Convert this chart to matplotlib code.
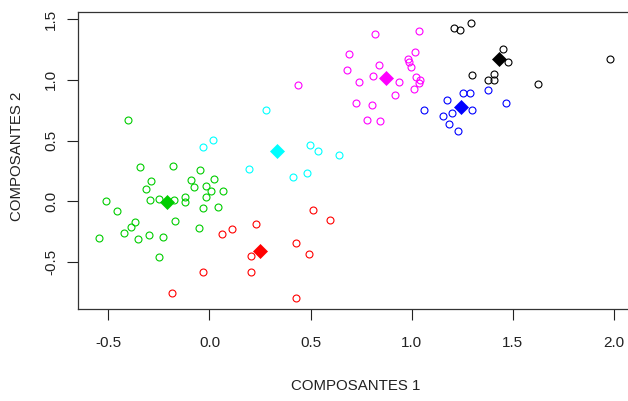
import matplotlib
matplotlib.use("Agg")
import matplotlib.pyplot as plt

# points of each cluster
green_x = [-0.403, -0.342, -0.178, -0.049, -0.288, -0.090, 0.023, -0.316, -0.074, -0.018,
           0.010, 0.069, -0.018, -0.512, -0.293, -0.252, -0.173, -0.119, -0.119, -0.031,
           0.043, -0.456, -0.366, -0.388, -0.168, -0.054, -0.425, -0.298, -0.352, -0.232,
           -0.548, -0.252]
green_y = [0.670, 0.280, 0.291, 0.260, 0.170, 0.178, 0.186, 0.104, 0.120, 0.123,
           0.087, 0.087, 0.038, 0.002, 0.013, 0.022, 0.013, 0.033, -0.008, -0.053,
           -0.044, -0.080, -0.173, -0.212, -0.165, -0.220, -0.258, -0.275, -0.313, -0.294,
           -0.305, -0.461]

cyan_x = [0.018, -0.031, 0.196, 0.280, 0.499, 0.536, 0.642, 0.481, 0.414]
cyan_y = [0.502, 0.447, 0.269, 0.752, 0.466, 0.412, 0.381, 0.233, 0.198]

red_x = [0.229, 0.111, 0.064, 0.203, -0.031, 0.206, -0.186, 0.514, 0.598, 0.430, 0.494, 0.430]
red_y = [-0.184, -0.231, -0.269, -0.453, -0.585, -0.585, -0.753, -0.072, -0.157, -0.344, -0.434, -0.799]

magenta_x = [0.821, 1.036, 0.692, 1.018, 0.679, 0.840, 0.983, 0.988, 0.998, 0.738, 0.807,
             0.939, 1.021, 1.041, 1.035, 1.013, 0.917, 0.725, 0.805, 0.781, 0.843, 0.440]
magenta_y = [1.378, 1.405, 1.211, 1.230, 1.082, 1.120, 1.170, 1.150, 1.104, 0.980, 1.035,
             0.985, 1.026, 0.999, 0.972, 0.923, 0.876, 0.810, 0.791, 0.672, 0.661, 0.960]

blue_x = [1.059, 1.176, 1.255, 1.288, 1.296, 1.201, 1.155, 1.186, 1.227, 1.375, 1.467]
blue_y = [0.755, 0.837, 0.895, 0.895, 0.755, 0.727, 0.705, 0.634, 0.579, 0.914, 0.810]

black_x = [1.211, 1.237, 1.293, 1.300, 1.451, 1.476, 1.408, 1.375, 1.408, 1.625, 1.983]
black_y = [1.425, 1.414, 1.471, 1.043, 1.257, 1.145, 1.051, 0.997, 1.002, 0.969, 1.172]

# cluster centres (filled diamonds)
centre_x = [-0.212, 0.336, 0.252, 0.871, 1.245, 1.433]
centre_y = [-0.008, 0.412, -0.407, 1.018, 0.777, 1.172]
colours = ["#00CD00", "#00FFFF", "#FF0000", "#FF00FF", "#0000FF", "#000000"]

xticks = [-0.5, 0.0, 0.5, 1.0, 1.5, 2.0]
yticks = [-0.5, 0.0, 0.5, 1.0, 1.5]

plt.rcParams['font.family'] = ["Liberation Sans", "DejaVu Sans"]

fig = plt.figure(figsize=(6.28, 4.01), dpi=100)
ax = fig.add_axes([0.1236, 0.2302, 0.880, 0.740])

groups = [(green_x, green_y), (cyan_x, cyan_y), (red_x, red_y),
          (magenta_x, magenta_y), (blue_x, blue_y), (black_x, black_y)]
for (gx, gy), c in zip(groups, colours):
    ax.plot(gx, gy, 'o', ls='none', ms=5, mfc='none', mec=c, mew=0.8)

for cx, cy, c in zip(centre_x, centre_y, colours):
    ax.plot(cx, cy, 'D', ms=7.4, mfc=c, mec=c, mew=0.5)

ax.set_xlim(-0.652, 2.081)
ax.set_ylim(-0.885, 1.559)
ax.set_xticks(xticks)
ax.set_xticklabels(["%.1f" % v for v in xticks])
ax.set_yticks(yticks)
ax.set_yticklabels(["%.1f" % v for v in yticks], rotation=90, va='center')

for s in ax.spines.values():
    s.set_color('#333333')
    s.set_linewidth(0.9)
# le bord droit sort de l'image
ax.spines['right'].set_visible(False)

ax.tick_params(axis='x', length=7.9, width=0.8, pad=12, labelsize=11, colors='#222222')
ax.tick_params(axis='y', length=7.9, width=0.8, pad=6, labelsize=11, colors='#222222')

fig.text(355.8 / 628, 1 - 386 / 401, "COMPOSANTES 1", ha='center', va='center',
         fontsize=10.8, color='#222222')
fig.text(17.5 / 628, 1 - 156.7 / 401, "COMPOSANTES 2", ha='center', va='center',
         rotation=90, fontsize=10.8, color='#222222')

fig.savefig("out.png", dpi=100)
